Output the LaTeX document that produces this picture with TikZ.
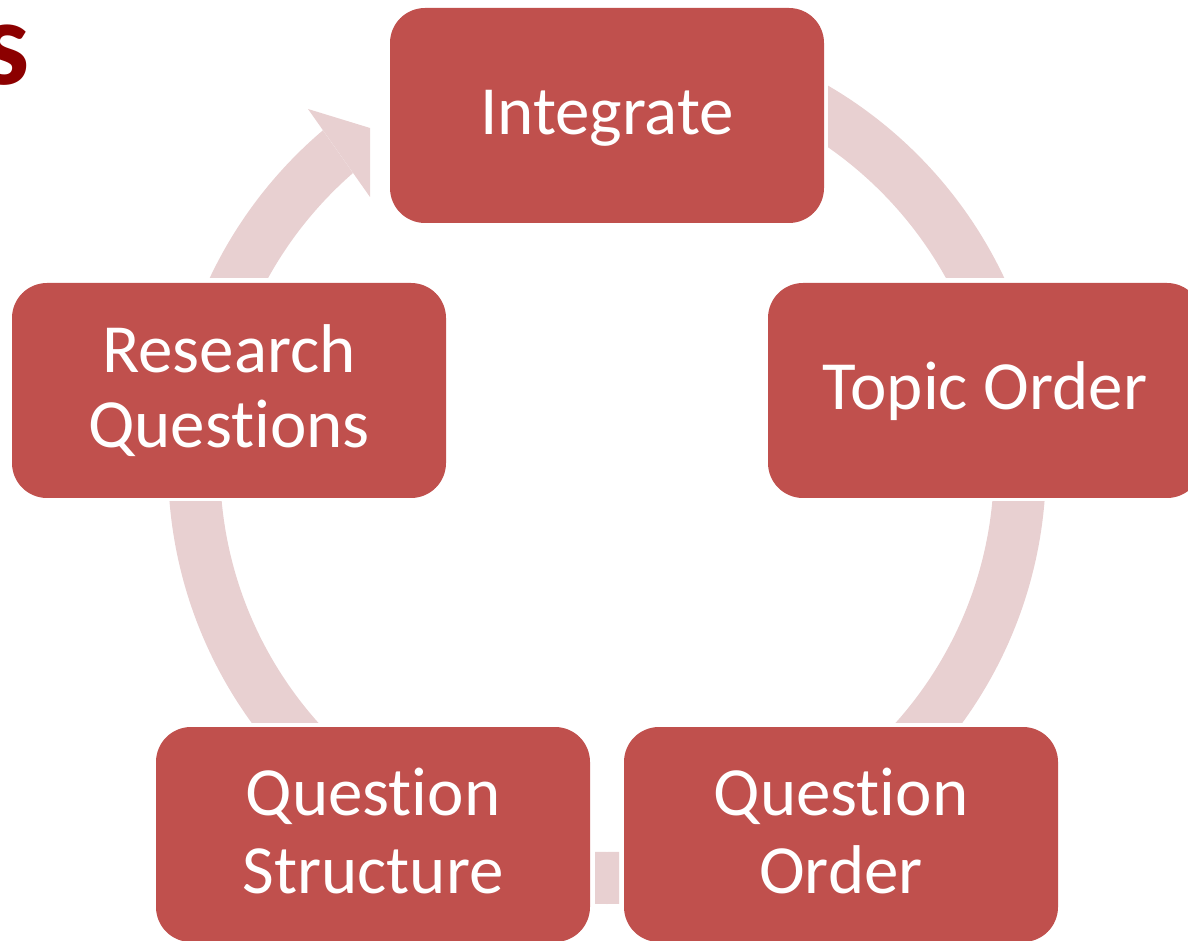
\documentclass[tikz,border=0pt]{standalone}
\usepackage{fontspec}
\setmainfont{Carlito}[Ligatures={NoCommon,NoContextual}]
\usetikzlibrary{calc}
\definecolor{boxred}{RGB}{192,80,77}
\definecolor{bandpink}{RGB}{232,208,209}
\definecolor{titlered}{RGB}{140,0,0}
\begin{document}
\begin{tikzpicture}[x=1pt,y=1pt,
  cyclebox/.style={rectangle, rounded corners=35pt, fill=boxred, draw=none,
    minimum width=434pt, minimum height=215pt, inner sep=0pt},
  boxtext/.style={anchor=base, inner sep=0pt, text=white,
    font=\fontsize{69}{80}\selectfont},
  band/.style={fill=bandpink}]
\useasboundingbox (0,0) rectangle (1188,940);
\clip (0,0) rectangle (1188,940);
\coordinate (C) at (607,475);
% connector bands (parts of one ring)
\begin{scope}
  \clip (828,662) rectangle (1188,940);
  \fill[band, even odd rule] (C) circle[radius=439] (C) circle[radius=387];
\end{scope}
\begin{scope}
  \clip (607,218) rectangle (1188,438);
  \fill[band, even odd rule] (C) circle[radius=439] (C) circle[radius=387];
\end{scope}
\begin{scope}
  \clip (595,0) rectangle (619,200);
  \fill[band, even odd rule] (C) circle[radius=439] (C) circle[radius=387];
\end{scope}
\begin{scope}
  \clip (0,218) rectangle (607,438);
  \fill[band, even odd rule] (C) circle[radius=439] (C) circle[radius=387];
\end{scope}
\begin{scope}
  \clip (0,940) -- (231,940) -- (427,662) -- (0,662) -- cycle;
  \fill[band, even odd rule] (C) circle[radius=439] (C) circle[radius=387];
\end{scope}
\coordinate (barbA) at (308,831);
\coordinate (tipA) at (370,812);
\coordinate (barbB) at (370,743);
\fill[band] (barbA) -- (tipA) -- (barbB) -- cycle;
% boxes
\node[cyclebox] (integrate) at (607,824.5) {};
\node[cyclebox] (topic) at (985,549.5) {};
\node[cyclebox] (research) at (229,549.5) {};
\node[cyclebox] (qstruct) at (373,105.5) {};
\node[cyclebox] (qorder) at (841,105.5) {};
% texts
\node[boxtext] (tintegrate) at ($(integrate.center)+(0,-19.5)$) {Integrate};
\node[boxtext] (ttopic) at ($(topic.center)+(0,-19.5)$) {Topic Order};
\node[boxtext] (tresearchA) at ($(research.center)+(0,18)$) {Research};
\node[boxtext] (tresearchB) at ($(research.center)+(0,-57)$) {Quest\kern0pt ions};
\node[boxtext] (tqstructA) at ($(qstruct.center)+(0,19.5)$) {Quest\kern0pt ion};
\node[boxtext] (tqstructB) at ($(qstruct.center)+(0,-58.5)$) {Structure};
\node[boxtext] (tqorderA) at ($(qorder.center)+(0,19.5)$) {Quest\kern0pt ion};
\node[boxtext] (tqorderB) at ($(qorder.center)+(0,-58.5)$) {Order};
% cropped title letter
\node[anchor=base east, inner sep=0pt, text=titlered,
  font=\bfseries\fontsize{121}{130}\selectfont] (title) at (29.7,855) {s};
\end{tikzpicture}
\end{document}
